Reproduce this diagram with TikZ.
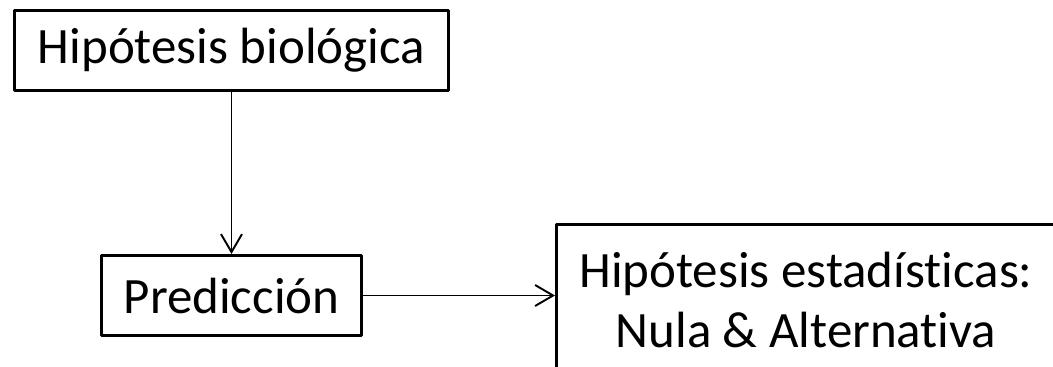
\documentclass[tikz,border=0pt]{standalone}
\usepackage{fontspec}
\setmainfont[Ligatures=NoCommon]{Carlito}
\usetikzlibrary{arrows.meta, positioning}
\tikzset{
	hypbox/.style={draw, line width=1.7pt, line join=round, inner sep=0pt,
		font=\fontsize{29}{34.1}\selectfont}
}
\tikzset{
	flowline/.style={line width=1.1pt}
}

\begin{document}
\begin{tikzpicture}[>={Straight Barb[length=3.6mm, width=4.2mm]}]
      \useasboundingbox (0,0) rectangle (21.06,7.32);
      \node[hypbox, minimum width=8.68cm, minimum height=1.6cm] (bio) at (4.63,6.31) {Hipótesis biológica};
      \node[hypbox, minimum width=5.2cm, minimum height=1.6cm] (pred) at (4.63,1.41) {Predicción};
      % statistical hypotheses, runs off the page
      \node[hypbox, align=center, minimum width=9.98cm, minimum height=3.02cm] (stat) at (16.12,1.32)
        {Hipótesis estadísticas:\\ Nula \& Alternativa};
      \draw[flowline, ->] (bio) -- (pred);
      \draw[flowline, ->] (pred.east) -- (pred.east -| stat.west);
    \end{tikzpicture}
\end{document}
